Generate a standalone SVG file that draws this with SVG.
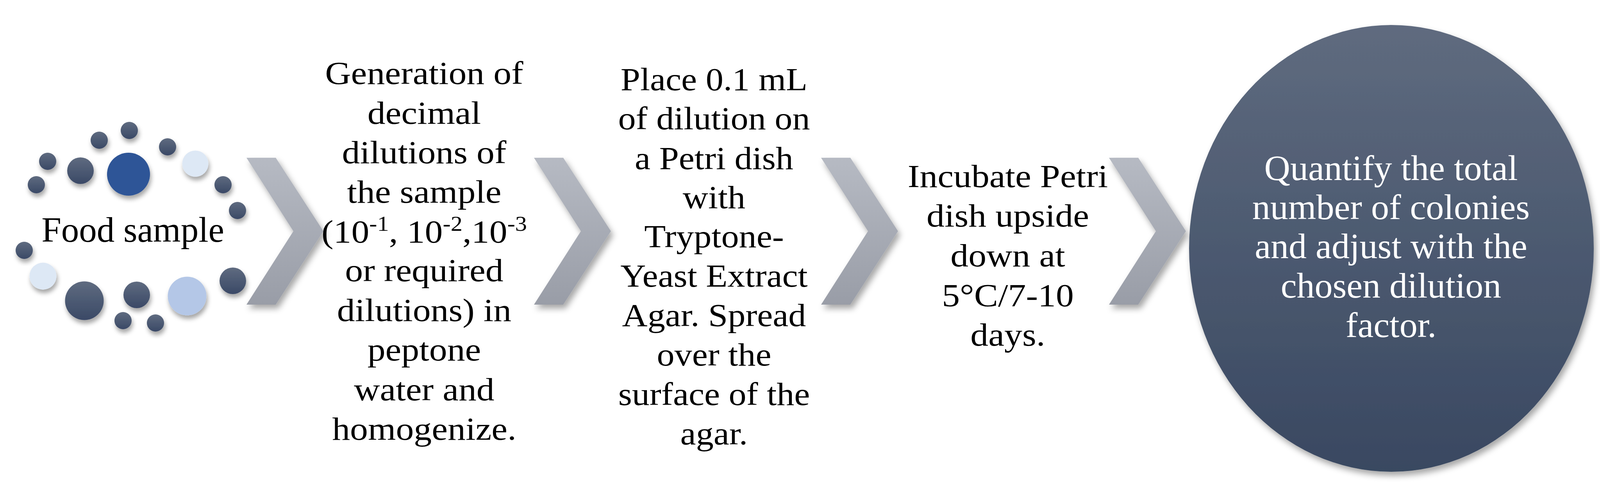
<svg xmlns="http://www.w3.org/2000/svg" width="4135" height="1247" viewBox="0 0 4135 1247">
<defs>
<linearGradient id="gDark" x1="0" y1="0" x2="0" y2="1"><stop offset="0" stop-color="#5f6b80"/><stop offset="1" stop-color="#3a4966"/></linearGradient>
<linearGradient id="gChev" x1="0" y1="0" x2="0" y2="1"><stop offset="0" stop-color="#b6bac3"/><stop offset="1" stop-color="#999da7"/></linearGradient>
<linearGradient id="gBig" x1="0" y1="0" x2="0" y2="1"><stop offset="0" stop-color="#5f6b7f"/><stop offset="1" stop-color="#394861"/></linearGradient>
<filter id="sh" x="-30%" y="-30%" width="160%" height="170%"><feDropShadow dx="3" dy="9" stdDeviation="6" flood-color="#000" flood-opacity="0.35"/></filter>
<filter id="shc" x="-20%" y="-20%" width="150%" height="150%"><feDropShadow dx="6" dy="10" stdDeviation="8" flood-color="#000" flood-opacity="0.35"/></filter>
<polygon id="chev" points="0,404 75,404 197,592 75,780 0,780 120,592"/>
</defs>
<style>
.dk{fill:url(#gDark);filter:url(#sh)}
.bl{fill:#2f5597;filter:url(#sh)}
.lt{fill:#dde8f5;filter:url(#sh)}
.md{fill:#b4c7e7;filter:url(#sh)}
.t{font-family:"Liberation Serif","Times New Roman",serif;fill:#000;text-anchor:middle}
.mid{font-size:82px}
.w{font-family:"Liberation Serif","Times New Roman",serif;fill:#fff;text-anchor:middle;font-size:92px}
</style>
<rect width="4135" height="1247" fill="#fff"/>
<g id="food-sample">
<circle class="dk" cx="331" cy="334" r="22"/>
<circle class="dk" cx="254" cy="359" r="22"/>
<circle class="dk" cx="429" cy="376" r="22"/>
<circle class="dk" cx="122" cy="413" r="22"/>
<circle class="dk" cx="206" cy="437" r="34"/>
<circle class="bl" cx="329" cy="446" r="55"/>
<circle class="lt" cx="500" cy="419" r="33.5"/>
<circle class="dk" cx="571" cy="473" r="22"/>
<circle class="dk" cx="93" cy="473" r="22"/>
<circle class="dk" cx="608" cy="539" r="22"/>
<circle class="dk" cx="62" cy="641" r="22"/>
<circle class="lt" cx="110" cy="707" r="34.5"/>
<circle class="dk" cx="216" cy="770" r="49.5"/>
<circle class="dk" cx="350" cy="755" r="34"/>
<circle class="md" cx="479" cy="758" r="49.5"/>
<circle class="dk" cx="596" cy="719" r="34"/>
<circle class="dk" cx="315" cy="821" r="22"/>
<circle class="dk" cx="398" cy="827" r="22"/>
<text class="t" x="340" y="619" font-size="91">Food sample</text>
</g>
<g id="connectors">
<use href="#chev" x="631" fill="url(#gChev)" filter="url(#shc)"/>
<use href="#chev" x="1367" fill="url(#gChev)" filter="url(#shc)"/>
<use href="#chev" x="2102" fill="url(#gChev)" filter="url(#shc)"/>
<use href="#chev" x="2839" fill="url(#gChev)" filter="url(#shc)"/>
</g>
<g id="dilutions" transform="translate(1086,0) scale(1.12,1)">
<text class="t mid" x="0" y="215">Generation of</text>
<text class="t mid" x="0" y="317">decimal</text>
<text class="t mid" x="0" y="418">dilutions of</text>
<text class="t mid" x="0" y="519">the sample</text>
<text class="t mid" x="0" y="621">(10<tspan font-size="54" dy="-30">-1</tspan><tspan dy="30">, 10</tspan><tspan font-size="54" dy="-30">-2</tspan><tspan dy="30">,10</tspan><tspan font-size="54" dy="-30">-3</tspan></text>
<text class="t mid" x="0" y="720">or required</text>
<text class="t mid" x="0" y="822">dilutions) in</text>
<text class="t mid" x="0" y="923">peptone</text>
<text class="t mid" x="0" y="1025">water and</text>
<text class="t mid" x="0" y="1126">homogenize.</text>
</g>
<g id="plating" transform="translate(1828,0) scale(1.1,1)">
<text class="t mid" x="0" y="231">Place 0.1 mL</text>
<text class="t mid" x="0" y="331">of dilution on</text>
<text class="t mid" x="0" y="433">a Petri dish</text>
<text class="t mid" x="0" y="533">with</text>
<text class="t mid" x="0" y="633">Tryptone-</text>
<text class="t mid" x="0" y="734">Yeast Extract</text>
<text class="t mid" x="0" y="835">Agar. Spread</text>
<text class="t mid" x="0" y="936">over the</text>
<text class="t mid" x="0" y="1037">surface of the</text>
<text class="t mid" x="0" y="1138">agar.</text>
</g>
<g id="incubate" transform="translate(2580,0) scale(1.12,1)">
<text class="t mid" x="0" y="479">Incubate Petri</text>
<text class="t mid" x="0" y="580">dish upside</text>
<text class="t mid" x="0" y="682">down at</text>
<text class="t mid" x="0" y="784">5°C/7-10</text>
<text class="t mid" x="0" y="885">days.</text>
</g>
<g id="quantify">
<ellipse cx="3562" cy="636" rx="518" ry="572" fill="url(#gBig)" filter="url(#shc)"/>
<text class="w" x="3561" y="461">Quantify the total</text>
<text class="w" x="3561" y="561">number of colonies</text>
<text class="w" x="3561" y="661">and adjust with the</text>
<text class="w" x="3561" y="762">chosen dilution</text>
<text class="w" x="3561" y="863">factor.</text>
</g>
</svg>
